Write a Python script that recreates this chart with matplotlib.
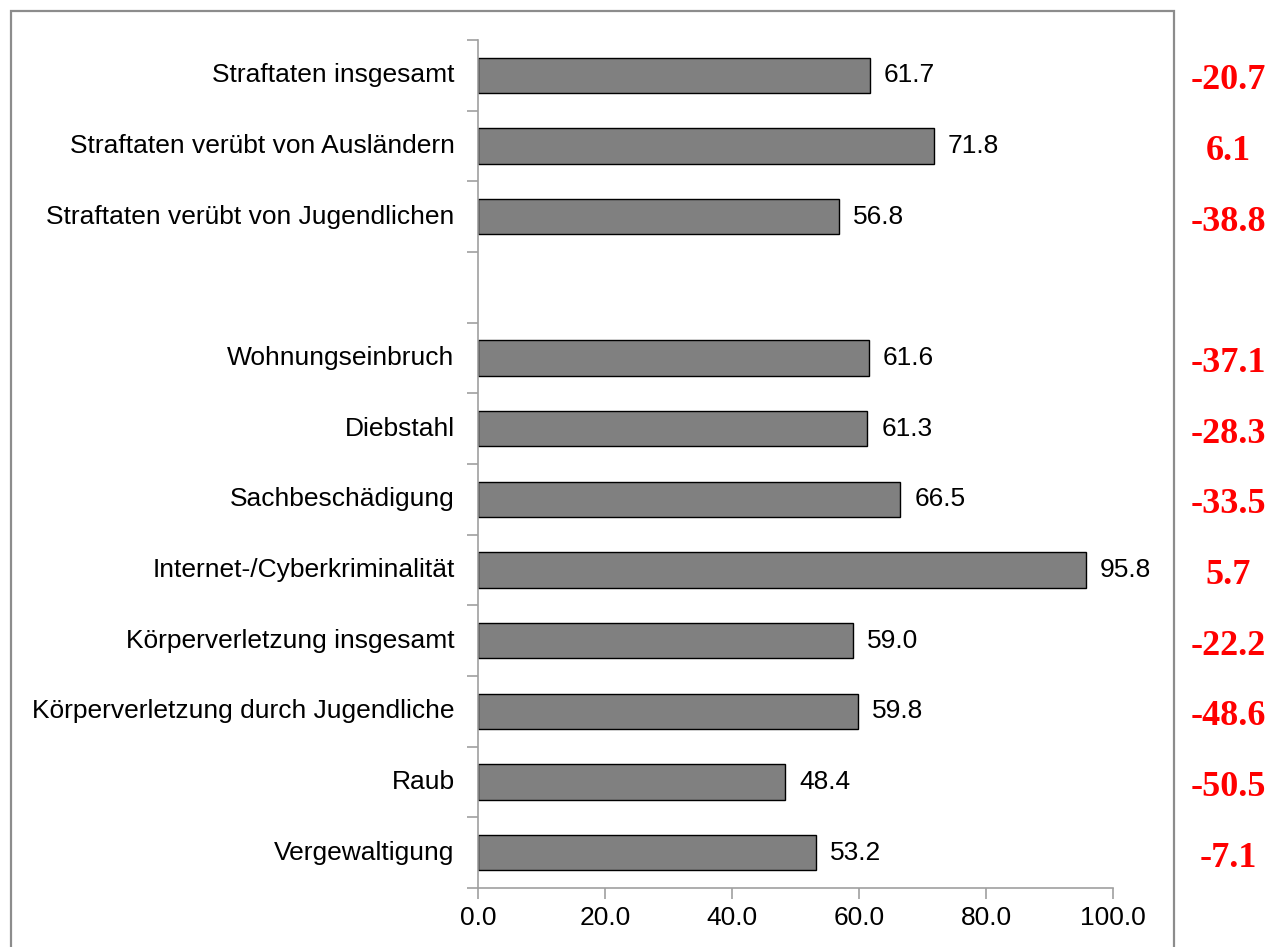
import matplotlib
matplotlib.use("Agg")
import matplotlib.pyplot as plt
from matplotlib.patches import Rectangle
from matplotlib.transforms import blended_transform_factory

# Kategorien (leerer Eintrag = Lücke zwischen den Gruppen)
categories = ["Straftaten insgesamt", "Straftaten verübt von Ausländern",
              "Straftaten verübt von Jugendlichen", "",
              "Wohnungseinbruch", "Diebstahl", "Sachbeschädigung",
              "Internet-/Cyberkriminalität", "Körperverletzung insgesamt",
              "Körperverletzung durch Jugendliche", "Raub", "Vergewaltigung"]
values = [61.7, 71.8, 56.8, None, 61.6, 61.3, 66.5, 95.8, 59.0, 59.8, 48.4, 53.2]
changes = ["-20.7", "6.1", "-38.8", None, "-37.1", "-28.3", "-33.5", "5.7",
           "-22.2", "-48.6", "-50.5", "-7.1"]
xticks = [0, 20, 40, 60, 80, 100]

plt.rcParams['font.family'] = ['Liberation Sans', 'DejaVu Sans']

fig = plt.figure(figsize=(12.7, 9.47), dpi=100)
ax = fig.add_axes([0.3764, 0.0623, 0.5, 0.8955])

# Balken
for i in range(len(categories)):
    if values[i] is None:
        continue
    ax.barh(i, values[i], height=0.5, color='#808080', edgecolor='black', linewidth=1)
    ax.annotate("%.1f" % values[i], (values[i], i), xytext=(10, 0),
                textcoords='offset points', va='center', ha='left', fontsize=19)

ax.set_ylim(len(categories) - 0.5, -0.5)
ax.set_xlim(0, 100)
ax.set_xticks(xticks)
ax.set_xticklabels(["%.1f" % t for t in xticks], fontsize=19)

# Kategorienbeschriftung zwischen den Teilstrichen
ax.set_yticks([k - 0.5 for k in range(len(categories) + 1)])
ax.set_yticklabels([])
for i in range(len(categories)):
    ax.text(-0.037, i, categories[i], transform=blended_transform_factory(ax.transAxes, ax.transData),
            ha='right', va='center', fontsize=19)

ax.tick_params(axis='y', length=8, width=1.2, color='#a0a0a0', direction='out')
ax.tick_params(axis='x', length=8, width=1.2, color='#a0a0a0', direction='out', pad=5)
for s in ['top', 'right']:
    ax.spines[s].set_visible(False)
for s in ['left', 'bottom']:
    ax.spines[s].set_color('#a0a0a0')
    ax.spines[s].set_linewidth(1.2)

# Veränderung in rot rechts außerhalb des Rahmens
tr = blended_transform_factory(fig.transFigure, ax.transData)
for i in range(len(categories)):
    if changes[i] is None:
        continue
    ax.text(0.967, i + 0.08, changes[i], transform=tr, ha='center', va='center',
            color='red', fontsize=26, fontweight='bold', family='Liberation Serif',
            clip_on=False)

# Rahmen
fig.patches.append(Rectangle((0.0087, -0.02), 0.9157, 1.0084, transform=fig.transFigure,
                             fill=False, edgecolor='#8c8c8c', linewidth=1.6))

fig.savefig("out.png", dpi=100)
